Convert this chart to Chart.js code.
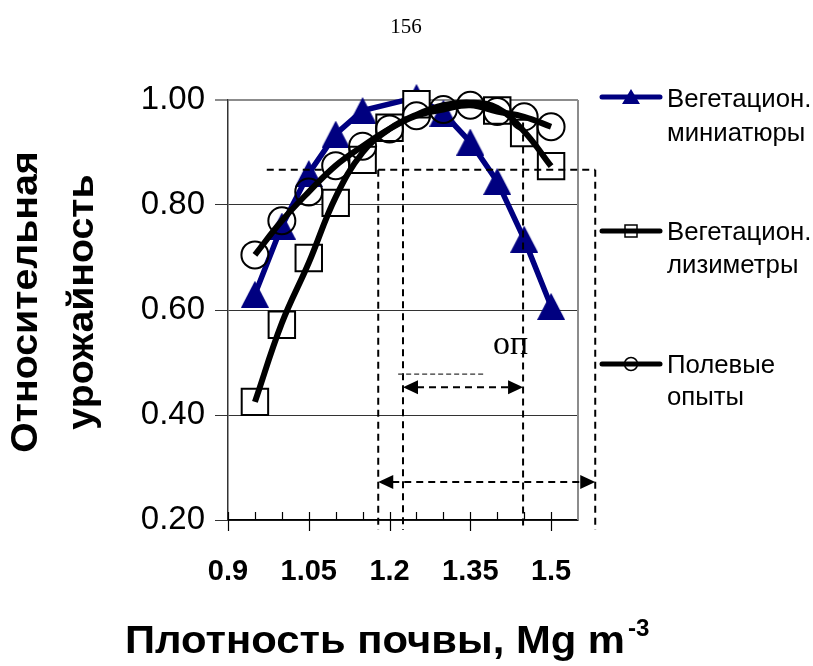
<!DOCTYPE html>
<html><head><meta charset="utf-8">
<script src="https://cdn.jsdelivr.net/npm/chart.js@4.4.1/dist/chart.umd.min.js"></script>
<style>html,body{margin:0;padding:0;background:#fff}canvas{display:block}</style>
</head><body>
<canvas id="c" width="813" height="666"></canvas>
<script>
// ---- data ----
const densities      = [0.95, 1.0, 1.05, 1.1, 1.15, 1.2, 1.25, 1.3, 1.35, 1.4, 1.45, 1.5];
const miniatures     = [0.63, 0.76, 0.86, 0.935, 0.98, null, 1.005, 0.975, 0.92, 0.845, 0.735, 0.607];
const lysimeters     = [0.425, 0.572, 0.699, 0.804, 0.886, 0.947, 0.992, null, null, 0.98, 0.937, 0.874];
const lysimeterCurve = [0.425, 0.575, 0.69, 0.815, 0.90, 0.945, 0.972, 0.99, 0.995, 0.985, 0.94, 0.874];
const fieldTrials    = [0.705, 0.77, 0.825, 0.875, 0.912, 0.945, 0.97, 0.982, 0.99, 0.978, 0.968, 0.949];
const seriesNames    = [["Вегетацион.", "миниатюры"], ["Вегетацион.", "лизиметры"], ["Полевые", "опыты"]];
const xTickValues    = [0.9, 0.95, 1.0, 1.05, 1.1, 1.15, 1.2, 1.25, 1.3, 1.35, 1.4, 1.45, 1.5, 1.55];
const xTickLabels    = ["0.9", "1.05", "1.2", "1.35", "1.5"];
const yTickValues    = [0.2, 0.4, 0.6, 0.8, 1.0];
const yTitle         = ["Относительная", "урожайность"];
const xTitle         = "Плотность почвы, Mg m";
const xTitleSup      = "-3";
const pageNumber     = "156";
const noteText       = "оп";

// annotation geometry in data units
const guides = [ {x:1.179, top:0.867}, {x:1.225, top:0.914}, {x:1.448, top:0.957}, {x:1.582, top:0.867} ];
const guideBottom = 0.181;
const hGuides = [ {y:0.867, x0:0.972, x1:1.075}, {y:0.867, x0:1.179, x1:1.582} ];
const arrows = [ {y:0.453, x0:1.225, x1:1.448}, {y:0.2724, x0:1.179, x1:1.582} ];
const faintLine = {y:0.478, x0:1.216, x1:1.374};
const notePos = {x:1.392, y:0.516};

const NAVY = '#000080';
const pts = arr => densities.map((d,i)=>({x:d, y:arr[i]}));

function triCanvas(w,h,color){
  const c=document.createElement('canvas'); c.width=w; c.height=h;
  const g=c.getContext('2d'); g.fillStyle=color; g.beginPath();
  g.moveTo(w/2,0); g.lineTo(w,h); g.lineTo(0,h); g.closePath(); g.fill(); return c;
}
const triBig = triCanvas(28,27,NAVY);

function stretchText(c, txt, x, y, sx){ c.save(); c.translate(x,y); c.scale(sx,1); c.fillText(txt,0,0); c.restore(); }

const deco = {
  id:'deco',
  beforeDraw(chart){
    const c=chart.ctx; c.save(); c.fillStyle='#fff'; c.fillRect(0,0,chart.width,chart.height); c.restore();
  },
  afterDatasetsDraw(chart){
    const c=chart.ctx, xs=chart.scales.x, ys=chart.scales.y, a=chart.chartArea;
    c.save();
    // right border of plot
    c.strokeStyle='#8c8c8c'; c.lineWidth=2;
    c.beginPath(); c.moveTo(a.right,a.top); c.lineTo(a.right,a.bottom); c.stroke();
    // x tick marks
    c.strokeStyle='#000'; c.lineWidth=1.2;
    xTickValues.slice(0,-1).forEach(v=>{
      const px=Math.round(xs.getPixelForValue(v))+0.5;
      const major = xTickLabels.some(l=>Math.abs(parseFloat(l)-v)<1e-6);
      c.beginPath(); c.moveTo(px,a.bottom-8); c.lineTo(px,a.bottom+(major?11:0)); c.stroke();
    });
    // dashed guides
    c.strokeStyle='#000'; c.lineWidth=2; c.setLineDash([7,5]);
    guides.forEach(g=>{
      const px=xs.getPixelForValue(g.x);
      c.beginPath(); c.moveTo(px,ys.getPixelForValue(g.top)); c.lineTo(px,ys.getPixelForValue(guideBottom)); c.stroke();
    });
    hGuides.forEach(g=>{
      const py=ys.getPixelForValue(g.y);
      c.beginPath(); c.moveTo(xs.getPixelForValue(g.x0),py); c.lineTo(xs.getPixelForValue(g.x1),py); c.stroke();
    });
    arrows.forEach(ar=>{
      const py=ys.getPixelForValue(ar.y), l=xs.getPixelForValue(ar.x0), r=xs.getPixelForValue(ar.x1);
      c.setLineDash([7,5]);
      c.beginPath(); c.moveTo(l+14,py); c.lineTo(r-14,py); c.stroke();
      c.setLineDash([]); c.fillStyle='#000';
      c.beginPath(); c.moveTo(l,py); c.lineTo(l+15,py-7); c.lineTo(l+15,py+7); c.closePath(); c.fill();
      c.beginPath(); c.moveTo(r,py); c.lineTo(r-15,py-7); c.lineTo(r-15,py+7); c.closePath(); c.fill();
    });
    c.setLineDash([5,3]); c.lineWidth=1.2; c.strokeStyle='#333';
    const fy=ys.getPixelForValue(faintLine.y);
    c.beginPath(); c.moveTo(xs.getPixelForValue(faintLine.x0),fy); c.lineTo(xs.getPixelForValue(faintLine.x1),fy); c.stroke();
    c.setLineDash([]);
    c.fillStyle='#000'; c.font='34px "Liberation Serif"'; c.textAlign='left'; c.textBaseline='alphabetic';
    c.fillText(noteText, xs.getPixelForValue(notePos.x), ys.getPixelForValue(notePos.y));
    c.restore();
  },
  afterDraw(chart){
    const c=chart.ctx; c.save(); c.fillStyle='#000';
    // page number
    c.font='21px "Liberation Serif"'; c.textAlign='center'; c.textBaseline='alphabetic';
    c.fillText(pageNumber, 406, 33);
    // y title
    c.font='bold 36px "Liberation Sans"';
    [37,93].forEach((bx,i)=>{
      c.save(); c.translate(bx,302); c.rotate(-Math.PI/2); c.scale(1.09,1); c.textAlign='center'; c.fillText(yTitle[i],0,0); c.restore();
    });
    // x title
    c.font='bold 38px "Liberation Sans"'; c.textAlign='left';
    const sx=1.1;
    const w=c.measureText(xTitle).width*sx;
    const x0 = 125;
    stretchText(c, xTitle, x0, 653, sx);
    c.font='bold 23px "Liberation Sans"'; stretchText(c, xTitleSup, x0+w+3, 636, 1.05);
    // legend
    const ents=[{y:97,b:[107,141],col:NAVY,mk:'tri'},{y:231,b:[240,273],col:'#000',mk:'sq'},{y:364,b:[373,405],col:'#000',mk:'ci'}];
    ents.forEach((e,i)=>{
      c.strokeStyle=e.col; c.lineWidth=5; c.lineCap='round';
      c.beginPath(); c.moveTo(602,e.y); c.lineTo(660,e.y); c.stroke();
      c.lineCap='butt';
      if(e.mk==='tri'){ c.fillStyle=NAVY; c.beginPath(); c.moveTo(631,e.y-8); c.lineTo(640,e.y+7); c.lineTo(622,e.y+7); c.closePath(); c.fill(); }
      if(e.mk==='sq'){ c.strokeStyle='#000'; c.lineWidth=1.5; c.fillStyle='#fff'; c.fillRect(625,e.y-6,12,12); c.strokeRect(625,e.y-6,12,12); c.beginPath(); c.lineWidth=5; c.moveTo(625,e.y); c.lineTo(637,e.y); c.stroke(); }
      if(e.mk==='ci'){ c.strokeStyle='#000'; c.lineWidth=1.5; c.beginPath(); c.arc(631,e.y,6.5,0,Math.PI*2); c.stroke(); }
      c.fillStyle='#000'; c.font='25px "Liberation Sans"'; c.textAlign='left';
      stretchText(c, seriesNames[i][0], 667, e.b[0], 1.03); stretchText(c, seriesNames[i][1], 667, e.b[1], 1.03);
    });
    c.restore();
  }
};

new Chart(document.getElementById('c'), {
  type:'line',
  data:{ datasets:[
    { label:seriesNames[2].join(' '), data:pts(fieldTrials), borderColor:'#000', borderWidth:6, tension:0.4,
      pointStyle:'circle', pointRadius:13.5, pointBorderWidth:2, pointBorderColor:'#000', pointBackgroundColor:'rgba(0,0,0,0)', clip:false, order:1 },
    { label:seriesNames[1].join(' ')+' (curve)', data:pts(lysimeterCurve), borderColor:'#000', borderWidth:6, tension:0.4,
      pointRadius:0, clip:false, order:2 },
    { label:seriesNames[1].join(' '), data:pts(lysimeters), showLine:false,
      pointStyle:'rect', pointRadius:18.7, pointBorderWidth:2, pointBorderColor:'#000', pointBackgroundColor:'#fff', clip:false, order:3 },
    { label:seriesNames[0].join(' '), data:pts(miniatures), borderColor:NAVY, borderWidth:5.5, tension:0, spanGaps:true,
      pointStyle:triBig, clip:false, order:4 }
  ]},
  options:{
    responsive:false, animation:false, devicePixelRatio:1,
    layout:{ padding:{ left:0, top:100, right:235, bottom:86 } },
    plugins:{ legend:{display:false}, tooltip:{enabled:false} },
    scales:{
      x:{ type:'linear', min:0.9, max:1.55,
        afterBuildTicks:s=>{ s.ticks = xTickValues.map(v=>({value:v})); },
        afterFit:s=>{ s.height=60; },
        grid:{ display:false, drawTicks:false },
        border:{ display:true, color:'#000', width:1.5 },
        ticks:{ padding:35, color:'#000', font:{ family:'"Liberation Sans"', size:29, weight:'bold' },
          autoSkip:false, maxRotation:0,
          callback:v=>{ const l=xTickLabels.find(t=>Math.abs(parseFloat(t)-v)<1e-6); return l||''; } }
      },
      y:{ min:0.2, max:1.0,
        afterBuildTicks:s=>{ s.ticks = yTickValues.map(v=>({value:v})); },
        afterFit:s=>{ s.width=228; },
        grid:{ drawTicks:true, tickLength:13,
          color:ctx=> (ctx.tick && Math.abs(ctx.tick.value-1)<1e-6) ? '#8c8c8c' : '#333',
          lineWidth:ctx=> (ctx.tick && Math.abs(ctx.tick.value-1)<1e-6) ? 2 : 1 },
        border:{ display:true, color:'#333', width:1.5 },
        ticks:{ padding:10, color:'#000', font:{ family:'"Liberation Sans"', size:33 },
          callback:v=>v.toFixed(2) }
      }
    }
  },
  plugins:[deco]
});
</script>
</body></html>
